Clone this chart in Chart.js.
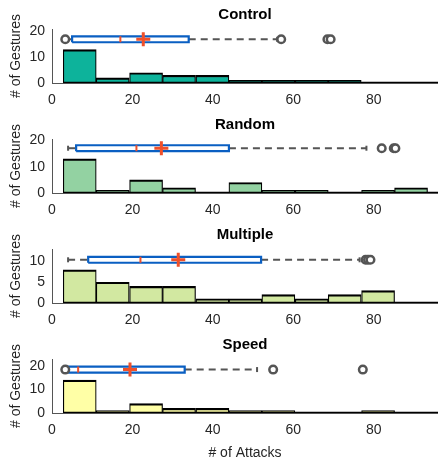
<!DOCTYPE html>
<html>
<head>
<meta charset="utf-8">
<script src="https://cdn.jsdelivr.net/npm/chart.js@4.4.1/dist/chart.umd.min.js"></script>
<style>
  body { margin: 0; background: #fff; }
  #wrap { position: relative; width: 438px; height: 466px; overflow: hidden; }
  .panel { position: absolute; left: 0; }
</style>
</head>
<body>
<div id="wrap"></div>
<script>
// histogram bins (# of attacks), same for every group
const binCenters = [6.9, 15.1, 23.4, 31.6, 39.9, 48.1, 56.3, 64.6, 72.8, 81.1, 89.3]

const groupNames = ["Control", "Random", "Multiple", "Speed"]

// counts per bin
const controlCounts = [13, 2, 4, 3, 3, 1, 1, 1, 1, 0, 0]
const randomCounts = [13, 1, 5, 2, 0, 4, 1, 1, 0, 1, 2]
const multipleCounts = [8, 5, 4, 4, 1, 1, 2, 1, 2, 3, 0]
const speedCounts = [14, 1, 4, 2, 2, 1, 1, 0, 0, 1, 0]

// box plot stats per group
const whiskerLow = [3.3, 4, 4, 3.3]
const quart1 = [5, 6, 9, 4]
const medians = [17, 21, 22, 6.5]
const means = [22.7, 27.2, 31.4, 19.4]
const quart3 = [34, 44, 52, 33]
const whiskerHigh = [56, 78.2, 76.5, 51]
const outliers = [
    [3.3, 57, 68.5, 69.3],
    [82, 85, 85.4],
    [78, 78.6, 79.2],
    [3.3, 55, 77.3]
]

// y level of box plot and y axis limits
const boxLevel = [17, 17, 10.4, 18.5]
const yMaxes = [21, 20.5, 13, 23]
const yTicks = [10, 10, 5, 10]
const xMin = 0
const xMax = 96

const allCounts = [controlCounts, randomCounts, multipleCounts, speedCounts]
const barColors = ["#0db39b", "#93d2a2", "#d2e8a1", "#ffffa6"]
const boxHalf = [1.16, 1.12, 0.71, 1.28]

const FONT = "'Liberation Sans', Arial, Helvetica, sans-serif"
const wrap = document.getElementById("wrap")

groupNames.forEach((name, i) => {
    const last = i === groupNames.length - 1
    const h = last ? 136 : 110
    const div = document.createElement("div")
    div.className = "panel"
    div.style.top = (110 * i) + "px"
    const canvas = document.createElement("canvas")
    canvas.width = 438
    canvas.height = h
    div.appendChild(canvas)
    wrap.appendChild(div)

    const y = boxLevel[i]
    const hb = boxHalf[i]
    const step = binCenters[1] - binCenters[0]
    const gray = "#555555"
    const red = "#f0502a"

    const datasets = [
        {
            type: "line", label: "mean",
            data: [{ x: means[i], y: y }],
            showLine: false, pointStyle: "cross", pointRadius: 7,
            borderColor: red, borderWidth: 3
        },
        {
            type: "line", label: "median",
            data: [{ x: medians[i], y: y }],
            showLine: false, pointStyle: "line", pointRotation: 90, pointRadius: 3,
            borderColor: red, borderWidth: 2
        },
        {
            type: "line", label: "outliers",
            data: outliers[i].map(v => ({ x: v, y: y })),
            showLine: false, pointStyle: "circle", pointRadius: 3.8,
            borderColor: gray, backgroundColor: "#ffffff", borderWidth: 2.5
        },
        {
            type: "line", label: "box",
            data: [
                { x: quart1[i], y: y - hb }, { x: quart3[i], y: y - hb },
                { x: quart3[i], y: y + hb }, { x: quart1[i], y: y + hb },
                { x: quart1[i], y: y - hb }
            ],
            borderColor: "#0a5fc2", borderWidth: 2.2, pointRadius: 0,
            borderJoinStyle: "miter", tension: 0, fill: false
        },
        {
            type: "line", label: "caps",
            data: [{ x: whiskerLow[i], y: y }, { x: whiskerHigh[i], y: y }],
            showLine: false, pointStyle: "line", pointRotation: 90, pointRadius: 2.5,
            borderColor: gray, borderWidth: 2
        },
        {
            type: "line", label: "whiskerLow",
            data: [{ x: whiskerLow[i], y: y }, { x: quart1[i], y: y }],
            borderColor: gray, borderWidth: 2, borderDash: [7, 5], pointRadius: 0
        },
        {
            type: "line", label: "whiskerHigh",
            data: [{ x: quart3[i], y: y }, { x: whiskerHigh[i], y: y }],
            borderColor: gray, borderWidth: 2, borderDash: [7, 5], pointRadius: 0
        },
        {
            type: "line", label: "baseline",
            data: [{ x: binCenters[0] - step / 2, y: 0 }, { x: xMax + step, y: 0 }],
            borderColor: "#000000", borderWidth: 2.5, pointRadius: 0
        },
        {
            type: "bar", label: name,
            data: binCenters.map((c, k) => ({ x: c, y: allCounts[i][k] })),
            backgroundColor: barColors[i],
            borderColor: "#000000",
            borderWidth: { top: 2.2, left: 1.2, right: 1.2, bottom: 0 },
            borderSkipped: false,
            barPercentage: 1, categoryPercentage: 1
        }
    ]

    const chart = new Chart(canvas.getContext("2d"), {
        type: "bar",
        data: { datasets: datasets },
        options: {
            responsive: false,
            animation: false,
            events: [],
            layout: { padding: 0, autoPadding: false },
            plugins: {
                legend: { display: false },
                tooltip: { enabled: false },
                title: {
                    display: true, text: name, color: "#000", fullSize: false,
                    font: { family: FONT, size: 15, weight: "bold" },
                    padding: { top: 6, bottom: 5 }
                }
            },
            scales: {
                x: {
                    type: "linear", min: xMin, max: xMax, offset: false,
                    grid: { display: false, drawTicks: false, offset: false },
                    border: { color: gray, width: 1 },
                    ticks: {
                        stepSize: 20, includeBounds: false, padding: 9,
                        color: "#262626", font: { family: FONT, size: 14 }, maxRotation: 0
                    },
                    title: {
                        display: last, text: "# of Attacks", color: "#262626",
                        font: { family: FONT, size: 14 }, padding: { top: 0, bottom: 4 }
                    },
                    afterFit: s => {
                        s.height = h - 83
                        s.paddingLeft = 0
                        s.paddingRight = 0
                    }
                },
                y: {
                    min: 0, max: yMaxes[i],
                    grid: { display: false, drawTicks: false },
                    border: { color: gray, width: 1 },
                    ticks: {
                        stepSize: yTicks[i], includeBounds: false, padding: 7,
                        color: "#262626", font: { family: FONT, size: 14 }
                    },
                    title: {
                        display: true, text: "# of Gestures", color: "#262626",
                        font: { family: FONT, size: 14 }, padding: { top: 8, bottom: 0 }
                    },
                    afterFit: s => { s.width = 52 }
                }
            }
        }
    })

    // plot area should run to the right edge of the figure
    const gap = canvas.width - chart.chartArea.right
    if (gap > 0.5) {
        chart.options.layout.padding = { left: 0, top: 0, bottom: 0, right: -gap }
        chart.update()
    }
})
</script>
</body>
</html>
